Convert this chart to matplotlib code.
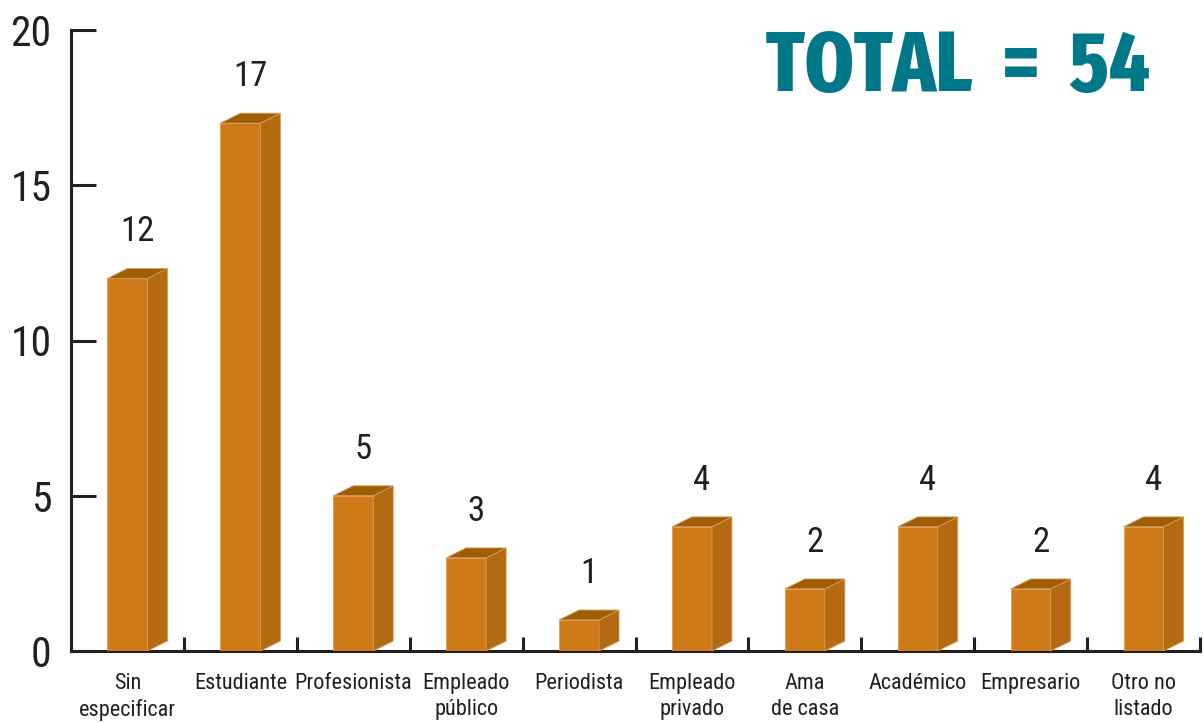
import matplotlib
matplotlib.use('Agg')
import matplotlib.pyplot as plt
from matplotlib.patches import Polygon, Rectangle

# data
categories = ['Sin\nespecificar', 'Estudiante', 'Profesionista', 'Empleado\npúblico',
              'Periodista', 'Empleado\nprivado', 'Ama\nde casa', 'Académico',
              'Empresario', 'Otro no\nlistado']
values = [12, 17, 5, 3, 1, 4, 2, 4, 2, 4]
y_ticks = [0, 5, 10, 15, 20]
total_label = 'TOTAL  =  54'

plt.rcParams['font.family'] = ['Roboto Condensed', 'DejaVu Sans']
text_color = '#231f20'
front_c = '#cf7a19'
side_c = '#b36a10'
top_c = '#9f5d06'
edge_c = '#dc9c55'

fig = plt.figure(figsize=(12.04, 7.23), dpi=100)
ax = fig.add_axes([71/1204, 72/723, (1200-71)/1204, (651-30)/723])

w = 0.354   # front width (category units)
dx = 0.177  # depth offset x
dy = 0.32   # depth offset y

for i, v in enumerate(values):
    c = i + 0.5
    x0, x1 = c - w/2, c + w/2
    ax.add_patch(Rectangle((x0, 0), w, v, facecolor=front_c, edgecolor=edge_c, lw=0.6, zorder=3))
    ax.add_patch(Polygon([(x1, 0), (x1+dx, dy), (x1+dx, v+dy), (x1, v)],
                         closed=True, facecolor=side_c, edgecolor=edge_c, lw=0.6, zorder=3))
    ax.add_patch(Polygon([(x0, v), (x1, v), (x1+dx, v+dy), (x0+dx, v+dy)],
                         closed=True, facecolor=top_c, edgecolor=edge_c, lw=0.6, zorder=3))
    ax.text(c + dx/2, v + 1.5, str(v), ha='center', va='center', fontsize=25, color=text_color)

ax.set_xlim(0, len(values))
ax.set_ylim(0, 20)

for s in ['top', 'right']:
    ax.spines[s].set_visible(False)
for s in ['left', 'bottom']:
    ax.spines[s].set_linewidth(2.2)
    ax.spines[s].set_color(text_color)

ax.set_yticks(y_ticks)
ax.set_yticklabels([str(t) for t in y_ticks])
ax.tick_params(axis='y', direction='in', length=18, width=2.2, color=text_color,
               labelsize=30, labelcolor=text_color, pad=14)

# boundaries as major ticks, names as minor ticks
ax.set_xticks(range(1, len(values) + 1))
ax.set_xticklabels([])
ax.set_xticks([i + 0.5 for i in range(len(values))], minor=True)
ax.set_xticklabels(categories, minor=True)
ax.tick_params(axis='x', which='major', direction='in', length=10, width=2.2, color=text_color)
ax.tick_params(axis='x', which='minor', length=0, pad=16, labelsize=16, labelcolor=text_color)
for lab in ax.get_xticklabels(minor=True):
    lab.set_linespacing(1.3)

fig.text(1150/1204, 1 - 27/723, total_label, ha='right', va='top', fontsize=61,
         fontweight=800, color='#00788a',
         family=['Fira Sans Extra Condensed', 'Roboto Condensed', 'DejaVu Sans'])

fig.savefig('out.png', dpi=100)
